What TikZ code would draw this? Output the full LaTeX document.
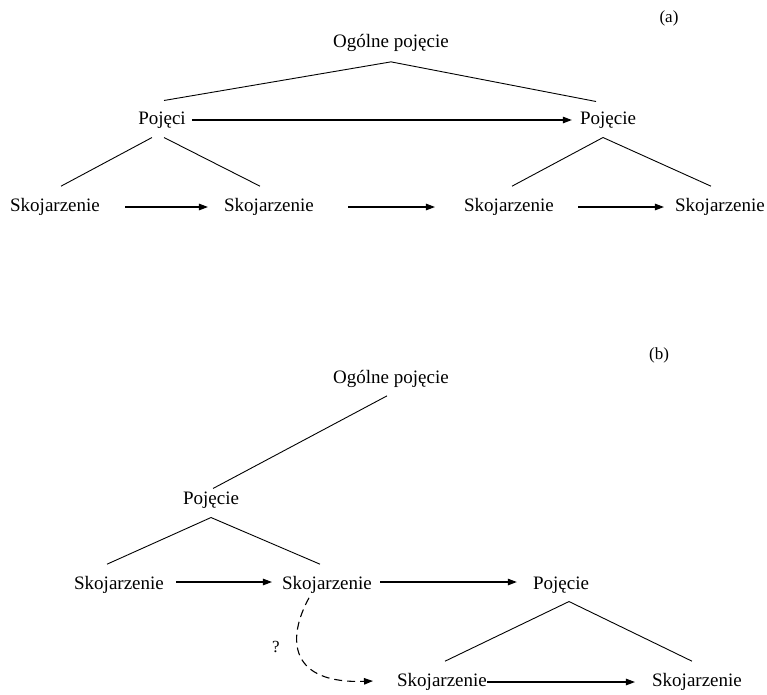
\documentclass[tikz,border=0pt]{standalone}
\usepackage{fontspec}
\setmainfont{Liberation Serif}
\usetikzlibrary{arrows.meta,positioning,calc}

\begin{document}
\begin{tikzpicture}[
            x=1pt,y=-1pt,
            >={Triangle[length=9pt,width=6.5pt]},
            word/.style={font=\fontsize{19}{22}\selectfont,inner sep=0pt},
            tag/.style={font=\fontsize{17}{20}\selectfont,inner sep=0pt},
            branch/.style={line width=0.9pt},
            flow/.style={->,line width=1.1pt},
            guess/.style={->,line width=1.1pt,dash pattern=on 8pt off 5pt}
        ]

        % Frame of the picture
        \useasboundingbox (0,0) rectangle (767,694);

        % ---------- (a) ----------
        \node[tag] (labA) at (669,18) {(a)};
        \node[word] (ogA) at (391,43) {Ogólne pojęcie};
        \node[word] (pojA) at (162,120) {Pojęci};
        \node[word] (pojB) at (608,120) {Pojęcie};
        \node[word] (skA1) at (55,207) {Skojarzenie};
        \node[word] (skA2) at (269,207) {Skojarzenie};
        \node[word] (skA3) at (509,207) {Skojarzenie};
        \node[word] (skA4) at (720,207) {Skojarzenie};

        % Tree lines
        \coordinate (topA) at ($(ogA.south)+(0,10)$);
        \draw[branch] ($(pojA.north)+(2,-11)$) -- (topA) -- ($(pojB.north)+(-12,-10)$);
        \draw[branch] ($(skA1.north)+(6,-12)$) -- ($(pojA.south)+(-10,9)$);
        \draw[branch] ($(skA2.north)+(-9,-12)$) -- ($(pojA.south)+(2,9)$);
        \draw[branch] ($(skA3.north)+(3,-12)$) -- ($(pojB.south)+(-5,9)$)
            -- ($(skA4.north)+(-9,-12)$);

        % Arrows
        \draw[flow] ($(pojA.east)+(6,0)$) -- ($(pojB.west)+(-8,0)$);
        \draw[flow] ($(skA1.east)+(25,0)$) -- ($(skA2.west)+(-16,0)$);
        \draw[flow] ($(skA2.east)+(34,0)$) -- ($(skA3.west)+(-29,0)$);
        \draw[flow] ($(skA3.east)+(24,0)$) -- ($(skA4.west)+(-11,0)$);

        % ---------- (b) ----------
        \node[tag] (labB) at (659,355) {(b)};
        \node[word] (ogB) at (391,379) {Ogólne pojęcie};
        \node[word] (pojC) at (211,500) {Pojęcie};
        \node[word] (skB1) at (119,585) {Skojarzenie};
        \node[word] (skB2) at (327,585) {Skojarzenie};
        \node[word] (pojD) at (561,585) {Pojęcie};
        \node[word] (skB3) at (442,682) {Skojarzenie};
        \node[word] (skB4) at (697,682) {Skojarzenie};
        \node[tag] (qB) at (276,647) {?};

        % Tree lines
        \draw[branch] ($(ogB.south)+(-4,8)$) -- ($(pojC.north)+(2,-3)$);
        \draw[branch] ($(skB1.north)+(-12,-12)$) -- ($(pojC.south)+(0,9)$)
            -- ($(skB2.north)+(-7,-12)$);
        \draw[branch] ($(skB3.north)+(3,-12)$) -- ($(pojD.south)+(8,8)$)
            -- ($(skB4.north)+(-5,-12)$);

        % Arrows
        \draw[flow] ($(skB1.east)+(12,-3)$) -- ($(skB2.west)+(-10,-3)$);
        \draw[flow] ($(skB2.east)+(8,-3)$) -- ($(pojD.west)+(-16,-3)$);
        \draw[flow] (skB3.east) -- ($(skB4.west)+(-17,0)$);

        % Open question
        \draw[guess] ($(skB2.south)+(-18,4)$) .. controls (286,640) and (290,684)
            .. ($(skB3.west)+(-24,-1)$);

        \end{tikzpicture}
\end{document}
